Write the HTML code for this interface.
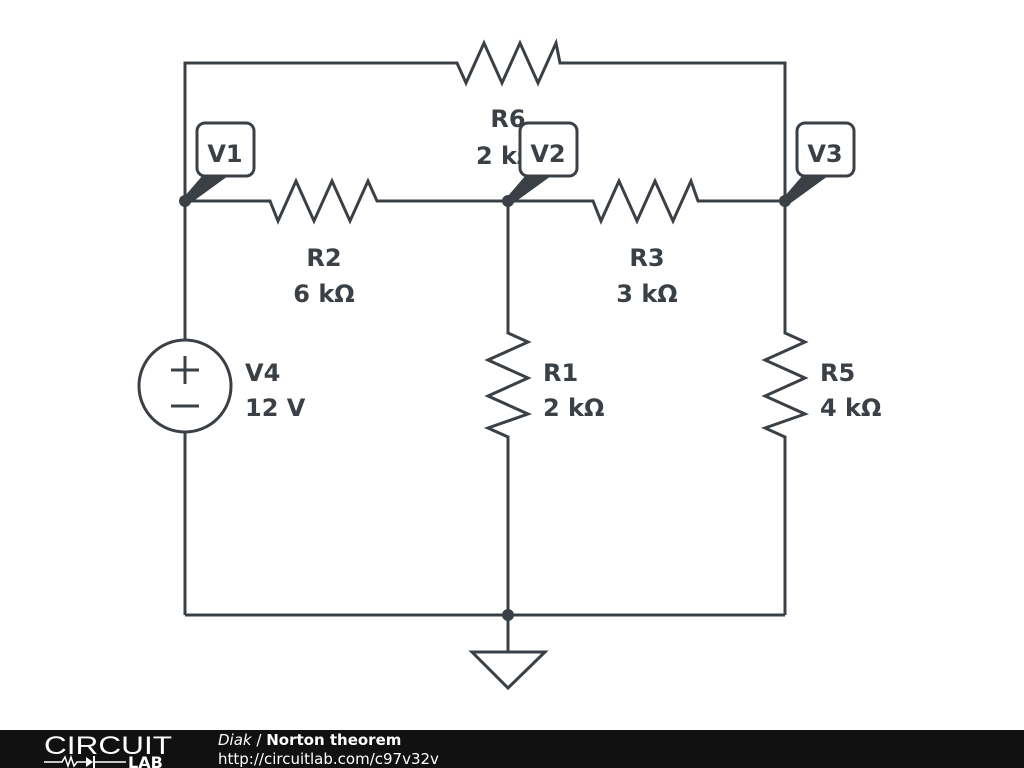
<!DOCTYPE html>
<html><head><meta charset="utf-8"><style>
html,body{margin:0;padding:0;background:#fff;}
svg{display:block}
text{font-family:"DejaVu Sans","Liberation Sans",sans-serif;font-weight:bold;fill:#3a4045;font-size:24px}
</style></head><body>
<svg width="1024" height="768" viewBox="0 0 1024 768">
<g fill="none" stroke="#3a4045" stroke-width="3" stroke-linejoin="miter">
<polyline points="185,201 185,63 457,63 466,83 484,43 502,83 520,43 538,83 556,43 560,63 785,63 785,201"/>
<polyline points="185,201 270,201 278,221 296,181 314,221 332,181 350,221 368,181 377,201 593,201 601,221 619,181 637,221 655,181 673,221 691,181 698,201 785,201"/>
<line x1="185" y1="201" x2="185" y2="339"/>
<line x1="185" y1="433" x2="185" y2="615"/>
<circle cx="185" cy="386" r="46"/>
<line x1="171" y1="370" x2="199" y2="370"/>
<line x1="185" y1="356" x2="185" y2="384"/>
<line x1="171" y1="406" x2="199" y2="406"/>
<polyline points="508,201 508,333 528,342 488,360 528,378 488,396 528,414 488,428 508,437 508,652"/>
<polyline points="785,201 785,333 805,342 765,360 805,378 765,396 805,414 765,428 785,437 785,615"/>
<line x1="185" y1="615" x2="785" y2="615"/>
<polygon points="472,652 545,652 508,688"/>
<rect x="197" y="123" width="57" height="53" rx="8"/>
<rect x="797" y="123" width="57" height="53" rx="8"/>
</g>
<g fill="#3a4045">
<circle cx="185" cy="201" r="6"/><circle cx="508" cy="201" r="6"/><circle cx="785" cy="201" r="6"/><circle cx="508" cy="615" r="6"/>
<polygon points="184,197 188,205 228,176 203,175"/>
<polygon points="507,197 511,205 551,176 526,175"/>
<polygon points="784,197 788,205 828,176 803,175"/>
</g>
<text x="508" y="127" text-anchor="middle">R6</text>
<text x="476" y="164">2 kΩ</text>
<rect x="520" y="123" width="57" height="53" rx="8" fill="#fff" stroke="#3a4045" stroke-width="3"/>
<text x="225" y="162" text-anchor="middle">V1</text>
<text x="548" y="162" text-anchor="middle">V2</text>
<text x="825" y="162" text-anchor="middle">V3</text>
<text x="324" y="266" text-anchor="middle">R2</text>
<text x="324" y="302" text-anchor="middle">6 kΩ</text>
<text x="647" y="266" text-anchor="middle">R3</text>
<text x="647" y="302" text-anchor="middle">3 kΩ</text>
<text x="245" y="381">V4</text>
<text x="245" y="416">12 V</text>
<text x="543" y="381">R1</text>
<text x="543" y="416">2 kΩ</text>
<text x="820" y="381">R5</text>
<text x="820" y="416">4 kΩ</text>
<rect x="0" y="730" width="1024" height="38" fill="#111"/>
<text x="44" y="754" textLength="128" lengthAdjust="spacingAndGlyphs" style="font-weight:normal;fill:#fff;font-size:25px;font-family:'Liberation Sans',sans-serif">CIRCUIT</text>
<polyline points="44,762 62,762 65,757 68,766 71,757 74,766 77,762 86,762" fill="none" stroke="#fff" stroke-width="1.5"/>
<polygon points="86,757 86,767 93,762" fill="#fff"/>
<line x1="94" y1="756" x2="94" y2="768" stroke="#fff" stroke-width="2"/>
<line x1="94" y1="762" x2="126" y2="762" stroke="#fff" stroke-width="1.5"/>
<text x="128" y="768" style="fill:#fff;font-size:16px">LAB</text>
<text x="218" y="745" style="font-weight:normal;font-style:italic;fill:#fff;font-size:15px">Diak <tspan style="font-style:normal">/</tspan> <tspan style="font-weight:bold;font-style:normal">Norton theorem</tspan></text>
<text x="218" y="764" style="font-weight:normal;fill:#fff;font-size:15px">http://circuitlab.com/c97v32v</text>
</svg>
</body></html>
